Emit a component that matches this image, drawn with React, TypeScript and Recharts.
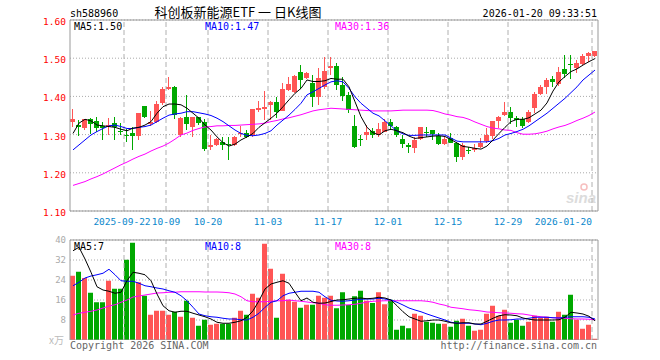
import React from "react";
import { ComposedChart, Bar, Line, XAxis, YAxis, CartesianGrid, ReferenceLine } from "recharts";

// daily K-line, 88 sessions (2025-09-09 .. 2026-01-20)
const openP = [
  1.334, 1.324, 1.318, 1.340, 1.336, 1.323, 1.321, 1.331, 1.310, 1.300,
  1.305, 1.296, 1.375, 1.328, 1.333, 1.384, 1.419, 1.425, 1.299, 1.345,
  1.321, 1.345, 1.334, 1.267, 1.273, 1.281, 1.275, 1.273, 1.301, 1.303,
  1.299, 1.364, 1.367, 1.378, 1.385, 1.363, 1.417, 1.412, 1.463, 1.449,
  1.436, 1.399, 1.425, 1.474, 1.479, 1.430, 1.404, 1.323, 1.288, 1.299,
  1.310, 1.299, 1.308, 1.334, 1.319, 1.288, 1.274, 1.265, 1.288, 1.308,
  1.312, 1.296, 1.275, 1.290, 1.277, 1.242, 1.260, 1.259, 1.268, 1.282,
  1.296, 1.336, 1.351, 1.359, 1.343, 1.341, 1.333, 1.369, 1.406, 1.425,
  1.446, 1.432, 1.472, 1.484, 1.475, 1.486, 1.506, 1.506,
];
const closeP = [
  1.341, 1.321, 1.340, 1.327, 1.318, 1.318, 1.325, 1.321, 1.308, 1.298,
  1.296, 1.356, 1.345, 1.334, 1.381, 1.419, 1.425, 1.351, 1.343, 1.327,
  1.345, 1.331, 1.262, 1.273, 1.289, 1.274, 1.272, 1.293, 1.303, 1.293,
  1.367, 1.369, 1.373, 1.385, 1.360, 1.419, 1.432, 1.454, 1.443, 1.462,
  1.399, 1.447, 1.467, 1.479, 1.430, 1.401, 1.364, 1.267, 1.287, 1.308,
  1.299, 1.315, 1.334, 1.322, 1.299, 1.275, 1.267, 1.287, 1.321, 1.306,
  1.301, 1.275, 1.288, 1.279, 1.242, 1.273, 1.256, 1.264, 1.279, 1.299,
  1.336, 1.347, 1.360, 1.343, 1.338, 1.323, 1.360, 1.406, 1.424, 1.443,
  1.439, 1.465, 1.459, 1.482, 1.487, 1.506, 1.513, 1.519,
];
const highP = [
  1.367, 1.338, 1.342, 1.344, 1.347, 1.334, 1.343, 1.345, 1.330, 1.315,
  1.321, 1.357, 1.375, 1.363, 1.387, 1.425, 1.452, 1.427, 1.347, 1.404,
  1.347, 1.346, 1.340, 1.299, 1.290, 1.295, 1.295, 1.296, 1.323, 1.312,
  1.367, 1.388, 1.414, 1.388, 1.399, 1.434, 1.452, 1.456, 1.482, 1.465,
  1.456, 1.474, 1.504, 1.504, 1.487, 1.450, 1.412, 1.351, 1.299, 1.325,
  1.317, 1.330, 1.340, 1.340, 1.323, 1.300, 1.279, 1.293, 1.321, 1.319,
  1.312, 1.305, 1.295, 1.303, 1.281, 1.277, 1.268, 1.275, 1.290, 1.317,
  1.336, 1.349, 1.386, 1.371, 1.349, 1.347, 1.364, 1.412, 1.429, 1.447,
  1.454, 1.478, 1.508, 1.508, 1.495, 1.510, 1.517, 1.520,
];
const lowP = [
  1.321, 1.296, 1.312, 1.302, 1.308, 1.288, 1.299, 1.286, 1.299, 1.282,
  1.260, 1.286, 1.343, 1.325, 1.330, 1.378, 1.417, 1.340, 1.295, 1.312,
  1.295, 1.325, 1.257, 1.260, 1.270, 1.262, 1.235, 1.270, 1.294, 1.290,
  1.294, 1.360, 1.338, 1.338, 1.345, 1.360, 1.415, 1.408, 1.419, 1.447,
  1.373, 1.378, 1.421, 1.456, 1.417, 1.386, 1.357, 1.264, 1.270, 1.286,
  1.290, 1.294, 1.305, 1.312, 1.293, 1.266, 1.253, 1.250, 1.286, 1.294,
  1.286, 1.273, 1.273, 1.277, 1.229, 1.232, 1.249, 1.253, 1.265, 1.279,
  1.290, 1.317, 1.349, 1.326, 1.319, 1.317, 1.330, 1.358, 1.404, 1.406,
  1.425, 1.427, 1.447, 1.444, 1.462, 1.480, 1.490, 1.504,
];
const ma5 = [
  1.303, 1.330, 1.340, 1.336, 1.325, 1.323, 1.321, 1.319, 1.314, 1.310,
  1.317, 1.319, 1.325, 1.334, 1.356, 1.373, 1.380, 1.380, 1.378, 1.369,
  1.356, 1.343, 1.325, 1.312, 1.294, 1.279, 1.270, 1.275, 1.286, 1.294,
  1.303, 1.319, 1.331, 1.343, 1.356, 1.373, 1.391, 1.408, 1.421, 1.443,
  1.439, 1.439, 1.441, 1.447, 1.445, 1.445, 1.425, 1.386, 1.347, 1.319,
  1.305, 1.299, 1.310, 1.314, 1.310, 1.305, 1.296, 1.290, 1.292, 1.294,
  1.296, 1.297, 1.295, 1.287, 1.278, 1.269, 1.267, 1.264, 1.262, 1.270,
  1.286, 1.303, 1.319, 1.334, 1.340, 1.340, 1.344, 1.354, 1.364, 1.383,
  1.414, 1.438, 1.452, 1.465, 1.472, 1.482, 1.491, 1.499,
];
const ma10 = [
  1.260, 1.273, 1.286, 1.299, 1.308, 1.316, 1.323, 1.325, 1.321, 1.316,
  1.316, 1.319, 1.321, 1.325, 1.334, 1.343, 1.351, 1.354, 1.356, 1.360,
  1.360, 1.357, 1.354, 1.350, 1.343, 1.334, 1.323, 1.312, 1.303, 1.298,
  1.297, 1.299, 1.303, 1.310, 1.325, 1.338, 1.351, 1.366, 1.382, 1.404,
  1.412, 1.421, 1.430, 1.438, 1.441, 1.438, 1.421, 1.399, 1.382, 1.369,
  1.356, 1.349, 1.336, 1.323, 1.309, 1.302, 1.298, 1.298, 1.299, 1.299,
  1.299, 1.299, 1.299, 1.291, 1.283, 1.281, 1.281, 1.281, 1.281, 1.281,
  1.284, 1.290, 1.299, 1.303, 1.308, 1.314, 1.323, 1.334, 1.345, 1.356,
  1.369, 1.382, 1.395, 1.410, 1.425, 1.443, 1.456, 1.469,
];
const ma30 = [
  1.167, 1.172, 1.177, 1.184, 1.190, 1.197, 1.205, 1.213, 1.221, 1.228,
  1.236, 1.243, 1.249, 1.257, 1.264, 1.270, 1.278, 1.288, 1.299, 1.304,
  1.311, 1.316, 1.320, 1.321, 1.323, 1.323, 1.324, 1.324, 1.325, 1.326,
  1.327, 1.328, 1.330, 1.334, 1.337, 1.341, 1.344, 1.348, 1.352, 1.357,
  1.362, 1.365, 1.367, 1.369, 1.368, 1.367, 1.366, 1.365, 1.364, 1.363,
  1.362, 1.362, 1.362, 1.362, 1.363, 1.364, 1.364, 1.364, 1.364, 1.364,
  1.363, 1.359, 1.354, 1.351, 1.347, 1.345, 1.340, 1.333, 1.327, 1.321,
  1.317, 1.315, 1.312, 1.311, 1.305, 1.301, 1.301, 1.302, 1.305, 1.309,
  1.315, 1.320, 1.324, 1.330, 1.337, 1.343, 1.350, 1.359,
];

// volume, in 万 shares
const volume = [
  25.7, 27.3, 24.8, 18.9, 15.1, 15.1, 23.7, 20.5, 20.5, 32.1,
  38.9, 23.1, 17.7, 10.1, 11.7, 11.7, 10.1, 11.3, 9.3, 15.7,
  8.9, 5.7, 8.1, 6.1, 6.5, 6.5, 6.5, 8.9, 11.7, 10.1,
  18.5, 16.9, 38.5, 28.5, 8.9, 26.5, 16.1, 15.3, 12.9, 14.1,
  14.1, 17.7, 16.9, 17.7, 12.7, 19.1, 14.0, 17.5, 19.7, 15.7,
  14.8, 19.1, 14.3, 16.1, 4.1, 5.7, 4.7, 10.5, 9.7, 7.3,
  6.9, 6.5, 6.5, 5.3, 7.7, 8.5, 5.7, 3.7, 4.1, 10.5,
  13.7, 9.7, 12.1, 6.9, 8.1, 5.7, 7.3, 9.7, 8.9, 9.3,
  7.3, 11.3, 10.1, 18.1, 8.1, 4.5, 6.1, 0.5,
];
const volMa5 = [
  35.7, 37.1, 32.4, 27.1, 21.3, 20.0, 19.5, 18.7, 19.1, 23.7,
  27.1, 26.7, 26.1, 23.7, 18.4, 13.7, 11.7, 11.1, 11.5, 11.5,
  10.7, 10.0, 9.3, 8.4, 7.1, 6.7, 6.7, 7.1, 7.7, 9.1,
  11.7, 15.7, 20.4, 22.4, 23.1, 23.7, 22.7, 19.1, 15.7, 16.8,
  15.1, 14.7, 14.8, 15.4, 16.0, 16.1, 16.4, 16.7, 16.8, 16.5,
  16.7, 17.1, 16.8, 16.0, 13.7, 11.3, 9.3, 8.4, 7.5, 7.7,
  8.0, 8.0, 7.5, 6.9, 6.7, 6.9, 6.9, 6.4, 6.4, 7.5,
  8.7, 9.7, 10.1, 10.0, 9.7, 8.8, 8.3, 8.0, 8.0, 8.0,
  8.0, 8.1, 9.1, 11.1, 10.8, 10.4, 9.5, 7.7,
];
const volMa10 = [
  21.7, 23.1, 24.8, 25.6, 26.1, 26.7, 28.3, 26.1, 23.7, 23.5,
  23.5, 22.7, 21.7, 21.3, 20.8, 20.4, 19.7, 19.1, 17.7, 15.7,
  13.1, 10.4, 9.7, 9.3, 9.1, 8.7, 8.4, 8.4, 8.1, 8.0,
  9.1, 10.7, 13.1, 15.1, 15.7, 17.7, 18.7, 19.1, 19.5, 19.5,
  19.5, 19.1, 17.3, 15.9, 15.6, 15.5, 15.7, 16.0, 16.3, 16.4,
  16.4, 16.7, 16.4, 16.0, 15.1, 14.0, 12.8, 12.0, 11.3, 10.4,
  9.6, 8.8, 8.0, 7.1, 6.7, 6.7, 6.7, 6.4, 6.1, 6.7,
  7.5, 8.0, 8.0, 8.1, 8.4, 8.4, 8.7, 9.1, 9.1, 9.1,
  8.9, 8.8, 9.1, 9.3, 9.3, 9.3, 9.1, 8.4,
];
const volMa30 = [
  10.0, 10.7, 11.1, 11.5, 12.0, 12.8, 13.6, 14.1, 15.1, 16.0,
  17.2, 17.6, 18.0, 18.4, 18.8, 18.9, 19.1, 19.1, 19.3, 19.3,
  19.3, 19.3, 19.2, 19.2, 19.2, 19.1, 18.9, 18.4, 17.3, 15.7,
  15.3, 15.3, 15.3, 15.5, 15.7, 15.7, 16.0, 15.7, 15.5, 15.2,
  14.9, 14.7, 14.1, 13.9, 13.9, 14.0, 14.1, 14.3, 14.7, 15.2,
  15.5, 15.6, 15.7, 15.7, 15.7, 15.7, 15.7, 15.7, 15.7, 15.5,
  15.1, 14.4, 13.9, 13.1, 12.8, 12.5, 12.1, 11.9, 11.6, 11.2,
  11.1, 10.9, 10.8, 10.7, 10.5, 10.4, 10.0, 9.6, 9.3, 9.1,
  8.9, 8.8, 8.7, 8.5, 8.4, 8.4, 8.3, 8.1,
];

const dateTicks = [9, 16, 23, 33, 43, 53, 63, 73, 87];
const dateLabels = ["2025-09-22", "10-09", "10-20", "11-03", "11-17", "12-01", "12-15", "12-29", "2026-01-20"];
const priceTicks = [1.1, 1.2, 1.3, 1.4, 1.5, 1.6];
const volTicks = [8, 16, 24, 32, 40];

const RED = "#ff5555";
const GREEN = "#00a800";
const MONO = "'DejaVu Sans Mono', monospace";

const data = openP.map((o, i) => ({
  x: i + 0.5,
  open: o,
  close: closeP[i],
  high: highP[i],
  low: lowP[i],
  range: [lowP[i], highP[i]],
  ma5: ma5[i],
  ma10: ma10[i],
  ma30: ma30[i],
  vol: volume[i],
  vma5: volMa5[i],
  vma10: volMa10[i],
  vma30: volMa30[i],
}));

const Candle = (props: any) => {
  const { x, y, width, height, payload } = props;
  if (!payload || x == null) return null;
  const top = height < 0 ? y + height : y;
  const h = Math.abs(height);
  const k = h / (payload.high - payload.low || 1);
  const yOf = (v: number) => top + (payload.high - v) * k;
  const color = payload.close >= payload.open ? RED : GREEN;
  const left = Math.floor(x + width / 2 - 2.5);
  const bTop = Math.round(yOf(Math.max(payload.open, payload.close)));
  const bBot = Math.round(yOf(Math.min(payload.open, payload.close)));
  return (
    <g>
      <rect x={left + 2} y={Math.round(top)} width={1} height={Math.max(1, Math.round(h))} fill={color} />
      <rect x={left} y={bTop} width={5} height={Math.max(1, bBot - bTop)} fill={color} />
    </g>
  );
};

const VolBar = (props: any) => {
  const { x, y, width, height, payload } = props;
  if (!payload || x == null) return null;
  const color = payload.close >= payload.open ? RED : GREEN;
  const left = Math.floor(x + width / 2 - 2.5);
  return <rect x={left} y={y} width={5} height={Math.max(0, height)} fill={color} />;
};

const DateTick = (props: any) => {
  const { x, payload } = props;
  const idx = dateTicks.indexOf(payload.value);
  const last = idx === dateTicks.length - 1;
  const px = idx === 0 ? x - 2 : x;
  return (
    <text x={px} y={225} textAnchor={last ? "end" : "middle"} fill="#0a88cc" fontSize={9.5} fontFamily={MONO}>
      {dateLabels[idx]}
    </text>
  );
};

const PriceTick = (props: any) => {
  const { y, payload } = props;
  return (
    <text x={66} y={y + 5} textAnchor="end" fill="#ff0000" fontSize={9.5} fontFamily={MONO}>
      {payload.value.toFixed(2)}
    </text>
  );
};

const VolTick = (props: any) => {
  const { y, payload } = props;
  return (
    <text x={66} y={y + 3} textAnchor="end" fill="#aaaaaa" fontSize={9} fontFamily={MONO}>
      {payload.value}
    </text>
  );
};

const App = () => {
  return (
    <div style={{ position: "absolute", left: 0, top: 0, width: 660, height: 360, background: "#fff" }}>
      <div style={{ position: "absolute", left: 0, top: 0 }}>
        <ComposedChart width={660} height={235} data={data} margin={{ top: 20, right: 62, bottom: 0, left: 0 }}>
          <CartesianGrid vertical={false} stroke="#aaaaaa" strokeDasharray="1 2" />
          {dateTicks.map((t) => (
            <ReferenceLine key={t} x={t} stroke="#b0b0b0" strokeDasharray="5 3" />
          ))}
          <ReferenceLine y={1.6} stroke="#999999" />
          <ReferenceLine x={88} stroke="#999999" />
          <XAxis
            type="number"
            dataKey="x"
            domain={[0, 88]}
            ticks={dateTicks}
            allowDataOverflow
            height={24}
            stroke="#999999"
            tickLine={false}
            tick={<DateTick />}
            interval={0}
          />
          <YAxis
            domain={[1.1, 1.6]}
            ticks={priceTicks}
            allowDataOverflow
            width={70}
            stroke="#999999"
            tickLine={false}
            tick={<PriceTick />}
            interval={0}
          />
          <Bar dataKey="range" barSize={5} shape={<Candle />} isAnimationActive={false} />
          <Line type="linear" dataKey="ma30" stroke="#ff00ff" dot={false} strokeWidth={1} isAnimationActive={false} />
          <Line type="linear" dataKey="ma10" stroke="#0000ff" dot={false} strokeWidth={1} isAnimationActive={false} />
          <Line type="linear" dataKey="ma5" stroke="#000000" dot={false} strokeWidth={1} isAnimationActive={false} />
        </ComposedChart>
      </div>
      <div style={{ position: "absolute", left: 0, top: 235 }}>
        <ComposedChart width={660} height={105} data={data} margin={{ top: 5, right: 62, bottom: 0, left: 0 }}>
          <CartesianGrid vertical={false} stroke="#aaaaaa" strokeDasharray="1 2" />
          {dateTicks.map((t) => (
            <ReferenceLine key={t} x={t} stroke="#b0b0b0" strokeDasharray="5 3" />
          ))}
          <ReferenceLine y={40} stroke="#999999" />
          <ReferenceLine y={0} stroke="#999999" />
          <ReferenceLine x={88} stroke="#999999" />
          <XAxis type="number" dataKey="x" domain={[0, 88]} ticks={dateTicks} allowDataOverflow hide />
          <YAxis
            domain={[0, 40]}
            ticks={volTicks}
            allowDataOverflow
            width={70}
            stroke="#999999"
            tickLine={false}
            tick={<VolTick />}
            interval={0}
          />
          <Bar dataKey="vol" barSize={5} shape={<VolBar />} isAnimationActive={false} />
          <Line type="linear" dataKey="vma30" stroke="#ff00ff" dot={false} strokeWidth={1} isAnimationActive={false} />
          <Line type="linear" dataKey="vma10" stroke="#0000ff" dot={false} strokeWidth={1} isAnimationActive={false} />
          <Line type="linear" dataKey="vma5" stroke="#000000" dot={false} strokeWidth={1} isAnimationActive={false} />
        </ComposedChart>
      </div>
      <svg width={660} height={360} style={{ position: "absolute", left: 0, top: 0, pointerEvents: "none" }}>
        <g fontFamily={MONO} fontSize={10}>
          <text x={70} y={17} fill="#000">sh588960</text>
          <text x={597} y={17} fill="#000" textAnchor="end">2026-01-20 09:33:51</text>
          <text x={74} y={29.5} fill="#000">MA5:1.50</text>
          <text x={205} y={29.5} fill="#0000ff">MA10:1.47</text>
          <text x={335} y={29.5} fill="#ff00ff">MA30:1.36</text>
          <text x={74} y={250} fill="#000">MA5:7</text>
          <text x={205} y={250} fill="#0000ff">MA10:8</text>
          <text x={335} y={250} fill="#ff00ff">MA30:8</text>
          <text x={70} y={349} fill="#666">Copyright 2026 SINA.COM</text>
          <text x={597} y={349} fill="#666" textAnchor="end">http://finance.sina.com.cn</text>
        </g>
        <text x={238} y={17} textAnchor="middle" fontSize={13} fill="#000" fontFamily="'Noto Sans CJK SC', sans-serif">
          科创板新能源ETF 一 日K线图
        </text>
        <text x={64} y={344} textAnchor="end" fontSize={10} fill="#bbbbbb" fontFamily="'Noto Sans CJK SC', sans-serif">
          x万
        </text>
        <g opacity={0.5}>
          <circle cx={584} cy={187} r={3} fill="none" stroke="#f08080" strokeWidth={1.5} />
          <text x={596} y={203} textAnchor="end" fontSize={15} fontStyle="italic" fontWeight="bold" fill="#bbbbbb" fontFamily="Arial, sans-serif">
            sina
          </text>
        </g>
      </svg>
    </div>
  );
};

export default App;
